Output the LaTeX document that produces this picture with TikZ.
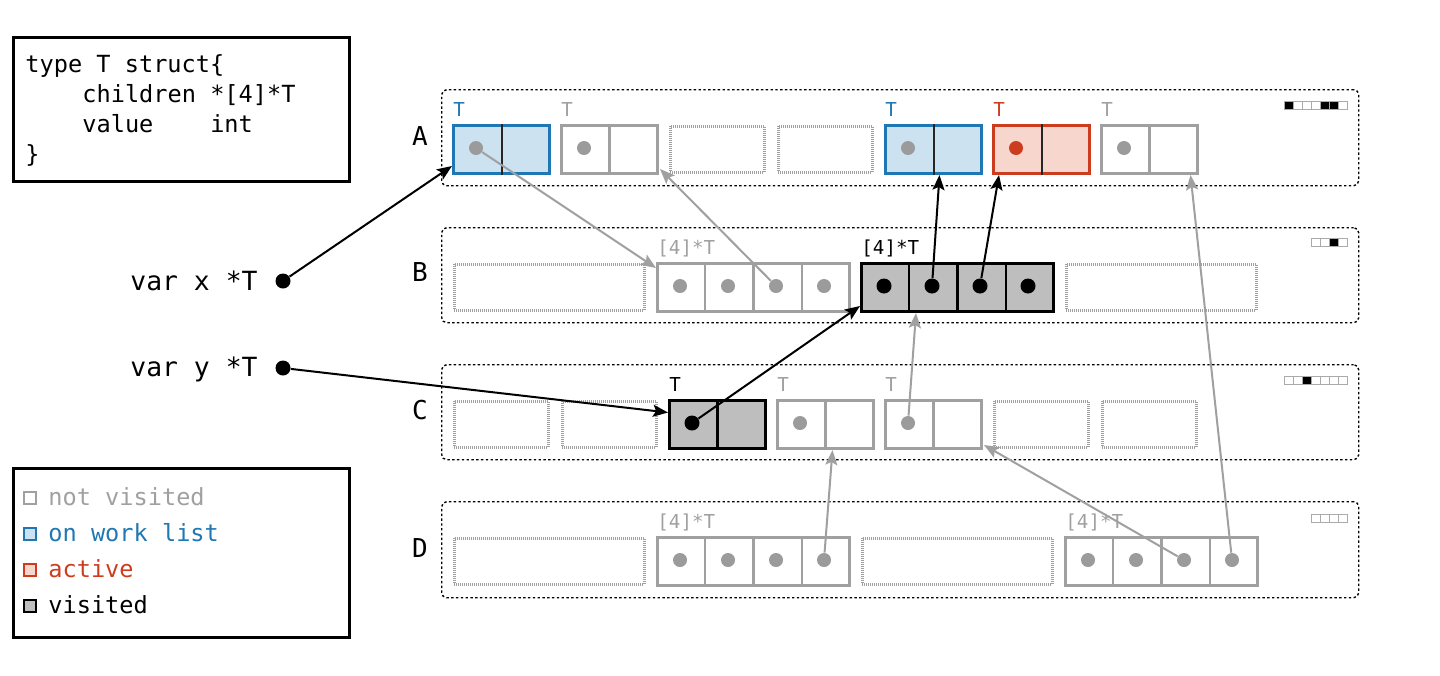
\documentclass[tikz,border=0pt]{standalone}
\usepackage{fontspec}
\newfontfamily\mono{DejaVu Sans Mono}
\usetikzlibrary{arrows.meta,calc}
\definecolor{wlblue}{RGB}{31,119,180}
\definecolor{wlbluefill}{RGB}{204,226,240}
\definecolor{actred}{RGB}{204,61,31}
\definecolor{actredfill}{RGB}{247,214,205}
\definecolor{nvgrey}{RGB}{160,160,160}
\definecolor{dotgrey}{RGB}{155,155,155}
\definecolor{visfill}{RGB}{190,190,190}
\tikzset{
  framebox/.style={draw=black, line width=1.4pt, anchor=north west, inner sep=0},
  codetext/.style={anchor=base west, inner sep=0, font=\mono\fontsize{11.8}{14}\selectfont},
  legtext/.style={anchor=base west, inner sep=0, font=\mono\fontsize{11.8}{14}\selectfont},
  legsq/.style={draw, line width=1pt, minimum size=6pt, inner sep=0},
  varlabel/.style={anchor=west, inner sep=0, font=\mono\fontsize{13.2}{15}\selectfont},
  rowlabel/.style={anchor=center, inner sep=0, font=\mono\fontsize{13}{15}\selectfont},
  tlab/.style={anchor=base west, inner sep=0, font=\mono\fontsize{9.6}{11}\selectfont},
  container/.style={draw=black, line width=0.7pt, dash pattern=on 1.2pt off 1.2pt, rounded corners=2.5pt, anchor=north west, inner sep=0},
  cellbase/.style={line width=1.5pt, minimum height=24pt, anchor=north west, inner sep=0},
  nvcell/.style={cellbase, draw=nvgrey, fill=white},
  wlcell/.style={cellbase, draw=wlblue, fill=wlbluefill},
  accell/.style={cellbase, draw=actred, fill=actredfill},
  viscell/.style={cellbase, draw=black, fill=visfill},
  nvdiv/.style={draw=nvgrey, line width=1.2pt},
  wldiv/.style={draw=black!85, line width=1pt},
  acdiv/.style={draw=black!85, line width=1pt},
  visdiv/.style={draw=black, line width=1.2pt},
  freecell/.style={draw=nvgrey, line width=1.3pt, dash pattern=on 0.5pt off 0.5pt, minimum height=23pt, anchor=north west, inner sep=0},
  gdot/.style={circle, fill=dotgrey, minimum size=7pt, inner sep=0},
  bdot/.style={circle, fill=black, minimum size=7.5pt, inner sep=0},
  rdot/.style={circle, fill=actred, minimum size=7pt, inner sep=0},
  ptrdot/.style={circle, fill=black, minimum size=7.5pt, inner sep=0},
  blackptr/.style={draw=black, line width=1pt, -{Stealth[length=7.5pt,width=6pt,inset=1.5pt]}},
  greyptr/.style={draw=nvgrey, line width=1pt, -{Stealth[length=7.5pt,width=6pt,inset=1.5pt]}},
  indsq/.style={draw=nvgrey!90, line width=0.5pt},
}
\newcommand\objT[4]{%
  \node[#4cell, minimum width=48pt] (#1) at (#2,#3) {};
  \draw[#4div] (#1.north) -- (#1.south);
}
\newcommand\objA[4]{%
  \node[#4cell, minimum width=96pt] (#1) at (#2,#3) {};
  \foreach \f in {0.25,0.5,0.75}
    \draw[#4div] ($(#1.north west)!\f!(#1.north east)$) -- ($(#1.south west)!\f!(#1.south east)$);
}
\newcommand\indic[3]{%
  \foreach \v [count=\i from 0] in {#3} {%
    \ifnum\v=1 \def\fc{black}\else\def\fc{white}\fi
    \draw[indsq, fill=\fc] ({#1+9*\i},#2) rectangle ++(9,8);
  }%
}
\begin{document}
\begin{tikzpicture}[x=0.5pt,y=-0.5pt]
\useasboundingbox (0,0) rectangle (1440,675);

% struct definition
\node[framebox, minimum width=168pt, minimum height=72pt] (structbox) at (12,36) {};
\node[codetext] (code1) at (25,72) {type T struct\{};
\node[codetext] (code2) at (82,102) {children *[4]*T};
\node[codetext] (code3) at (82,132) {value\ \ \ \ int};
\node[codetext] (code4) at (25,162) {\}};

% legend
\node[framebox, minimum width=168pt, minimum height=84.5pt] (legendbox) at (12,467) {};
\node[legsq, draw=nvgrey, fill=white] (lg1) at (30,498) {};
\node[legsq, draw=wlblue, fill=wlbluefill] (lg2) at (30,534) {};
\node[legsq, draw=actred, fill=actredfill] (lg3) at (30,570) {};
\node[legsq, draw=black, fill=visfill] (lg4) at (30,606) {};
\node[legtext, text=nvgrey] (lt1) at (48,505) {not visited};
\node[legtext, text=wlblue] (lt2) at (48,541) {on work list};
\node[legtext, text=actred] (lt3) at (48,577) {active};
\node[legtext, text=black] (lt4) at (48,613) {visited};

% variables
\node[varlabel] (xlab) at (130,281) {var x *T};
\node[ptrdot] (xd) at (283,281) {};
\node[varlabel] (ylab) at (130,369) {var y *T};
\node[ptrdot] (yd) at (283,368) {};

% row labels
\node[rowlabel] (labA) at (420,136) {A};
\node[rowlabel] (labB) at (420,272) {B};
\node[rowlabel] (labC) at (420,410) {C};
\node[rowlabel] (labD) at (420,548) {D};

% containers
\node[container, minimum width=458.5pt, minimum height=48pt] (rowA) at (441,89) {};
\node[container, minimum width=458.5pt, minimum height=47.5pt] (rowB) at (441,227) {};
\node[container, minimum width=458.5pt, minimum height=47.5pt] (rowC) at (441,364) {};
\node[container, minimum width=458.5pt, minimum height=48pt] (rowD) at (441,501) {};

% indicators
\indic{1284}{101}{1,0,0,0,1,1,0}
\indic{1311}{238}{0,0,1,0}
\indic{1284}{376}{0,0,1,0,0,0,0}
\indic{1311}{514}{0,0,0,0}

% row A
\objT{A1}{452}{124}{wl}
\objT{A2}{560}{124}{nv}
\node[freecell, minimum width=47pt] (A3) at (669,125) {};
\node[freecell, minimum width=47pt] (A4) at (777,125) {};
\objT{A5}{884}{124}{wl}
\objT{A6}{992}{124}{ac}
\objT{A7}{1100}{124}{nv}
\node[tlab, text=wlblue] (A1t) at (453,116) {T};
\node[tlab, text=nvgrey] (A2t) at (561,116) {T};
\node[tlab, text=wlblue] (A5t) at (885,116) {T};
\node[tlab, text=actred] (A6t) at (993,116) {T};
\node[tlab, text=nvgrey] (A7t) at (1101,116) {T};
\node[gdot] (A1d) at (476,148) {};
\node[gdot] (A2d) at (584,148) {};
\node[gdot] (A5d) at (908,148) {};
\node[rdot] (A6d) at (1016,148) {};
\node[gdot] (A7d) at (1124,148) {};

% row B
\node[freecell, minimum width=95pt] (B1) at (453,263) {};
\objA{B2}{656}{262}{nv}
\objA{B3}{860}{262}{vis}
\node[freecell, minimum width=95pt] (B4) at (1065,263) {};
\node[tlab, text=nvgrey] (B2t) at (657,254) {[4]*T};
\node[tlab, text=black] (B3t) at (861,254) {[4]*T};
\foreach \k in {1,2,3,4} {
  \node[gdot] (B2d\k) at ({656-24+48*\k},286) {};
  \node[bdot] (B3d\k) at ({860-24+48*\k},286) {};
}

% row C
\node[freecell, minimum width=47pt] (C1) at (453,400) {};
\node[freecell, minimum width=47pt] (C2) at (561,400) {};
\objT{C3}{668}{399}{vis}
\objT{C4}{776}{399}{nv}
\objT{C5}{884}{399}{nv}
\node[freecell, minimum width=47pt] (C6) at (993,400) {};
\node[freecell, minimum width=47pt] (C7) at (1101,400) {};
\node[tlab, text=black] (C3t) at (669,391) {T};
\node[tlab, text=nvgrey] (C4t) at (777,391) {T};
\node[tlab, text=nvgrey] (C5t) at (885,391) {T};
\node[bdot] (C3d) at (692,423) {};
\node[gdot] (C4d) at (800,423) {};
\node[gdot] (C5d) at (908,423) {};

% row D
\node[freecell, minimum width=95pt] (D1) at (453,537) {};
\objA{D2}{656}{536}{nv}
\node[freecell, minimum width=95pt] (D3) at (861,537) {};
\objA{D4}{1064}{536}{nv}
\node[tlab, text=nvgrey] (D2t) at (657,528) {[4]*T};
\node[tlab, text=nvgrey] (D4t) at (1065,528) {[4]*T};
\foreach \k in {1,2,3,4} {
  \node[gdot] (D2d\k) at ({656-24+48*\k},560) {};
  \node[gdot] (D4d\k) at ({1064-24+48*\k},560) {};
}

% arrow end points
\coordinate (A1in) at ($(A1.south west)+(0,-9)$);
\coordinate (C3in) at ($(C3.west)+(0,-12)$);
\coordinate (B3in) at ($(B3.south west)+(0,-7)$);
\coordinate (A5in) at ($(A5.south)+(6,0)$);
\coordinate (A6in) at ($(A6.south west)+(7,0)$);
\coordinate (B2in) at ($(B2.north west)+(0,6)$);
\coordinate (A2in) at ($(A2.south east)+(1,-6)$);
\coordinate (B3bin) at ($(B3.south west)+(56,0)$);
\coordinate (C4in) at ($(C4.south)+(7,0)$);
\coordinate (C5in) at ($(C5.south east)+(1,-5)$);
\coordinate (A7in) at ($(A7.south)+(41,0)$);

% grey pointers
\draw[greyptr] (A1d) -- (B2in);
\draw[greyptr] (B2d3) -- (A2in);
\draw[greyptr] (C5d) -- (B3bin);
\draw[greyptr] (D2d4) -- (C4in);
\draw[greyptr] (D4d3) -- (C5in);
\draw[greyptr] (D4d4) -- (A7in);

% black pointers
\draw[blackptr] (xd) -- (A1in);
\draw[blackptr] (yd) -- (C3in);
\draw[blackptr] (C3d) -- (B3in);
\draw[blackptr] (B3d2) -- (A5in);
\draw[blackptr] (B3d3) -- (A6in);
\end{tikzpicture}
\end{document}
